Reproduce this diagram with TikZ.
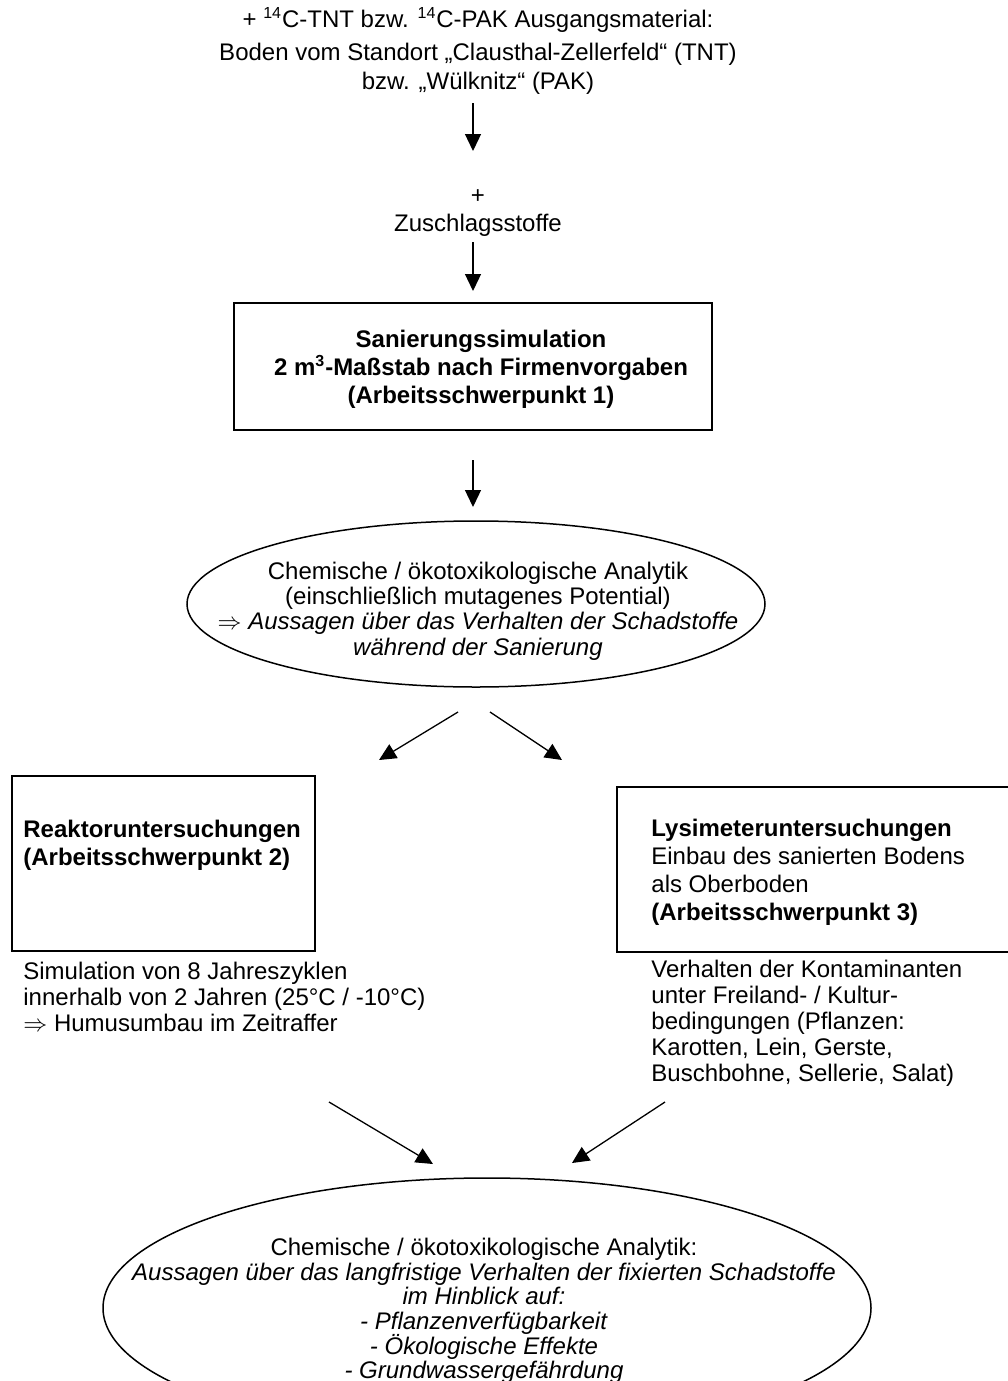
\documentclass[tikz,border=0pt]{standalone}
\usepackage{fontspec}
\setmainfont{Liberation Sans}
\usetikzlibrary{arrows.meta,shapes.geometric}

% feste Zeilenabstaende, auch bei engem Durchschuss
\newcommand\engzeilen{\lineskiplimit=-6pt\relax}

\tikzset{
  pfeil/.style={-{Triangle[length=8.5pt,width=8pt]}, line width=0.65pt},
  kasten/.style={draw, line width=1pt, inner sep=0pt},
  oval/.style={draw, ellipse, line width=0.75pt, inner sep=0pt},
  txt/.style={inner sep=0pt, font=\fontsize{12}{14}\selectfont\engzeilen},
}

\begin{document}
\begin{tikzpicture}[x=0.5pt, y=-0.5pt]
    \useasboundingbox (0,0) rectangle (1007,1381);

    % Nodes
    \node[txt, align=center, font=\fontsize{12}{14.5}\selectfont] (src) at (478,51) {+ \textsuperscript{14}C-TNT bzw. \textsuperscript{14}C-PAK Ausgangsmaterial:\\[2pt]
        Boden vom Standort „Clausthal-Zellerfeld“ (TNT)\\ bzw. „Wülknitz“ (PAK)};
    \node[txt, align=center] (zus) at (478,213) {+\\ Zuschlagsstoffe};

    \node[kasten, minimum width=239pt, minimum height=63.5pt] (san) at (473,366) {};
    \node[txt, align=center, font=\fontsize{12}{14}\selectfont\bfseries] (santxt) at (481,369)
        {Sanierungssimulation\\ 2 m\textsuperscript{3}-Maßstab nach Firmenvorgaben\\ (Arbeitsschwerpunkt 1)};

    \node[oval, minimum width=289pt, minimum height=83pt] (ana1) at (476,604) {};
    \node[txt, align=center, font=\fontsize{12}{12.6}\selectfont\engzeilen] (ana1txt) at (478,611) {Chemische / ökotoxikologische Analytik\\
        (einschließlich mutagenes Potential)\\
        $\Rightarrow$ \textit{Aussagen über das Verhalten der Schadstoffe}\\
        \textit{während der Sanierung}};

    \node[kasten, minimum width=151.5pt, minimum height=87.5pt] (reak) at (163.5,863.5) {};
    \node[txt, align=left, anchor=west, font=\fontsize{12}{14}\selectfont\bfseries] (reaktxt) at (23,845)
        {Reaktoruntersuchungen\\ (Arbeitsschwerpunkt 2)};
    \node[txt, align=left, anchor=west, font=\fontsize{12}{13}\selectfont\engzeilen] (reakinfo) at (23,997) {Simulation von 8 Jahreszyklen\\
        innerhalb von 2 Jahren (25°C / -10°C)\\ $\Rightarrow$ Humusumbau im Zeitraffer};

    \node[kasten, minimum width=199pt, minimum height=82.5pt] (lys) at (816,869.5) {};
    \node[txt, align=left, anchor=west] (lystxt) at (651,872) {\textbf{Lysimeteruntersuchungen}\\
        Einbau des sanierten Bodens\\ als Oberboden\\ \textbf{(Arbeitsschwerpunkt 3)}};
    \node[txt, align=left, anchor=west, font=\fontsize{12}{13}\selectfont\engzeilen] (lysinfo) at (651,1023) {Verhalten der Kontaminanten\\
        unter Freiland- / Kultur-\\ bedingungen (Pflanzen:\\ Karotten, Lein, Gerste,\\
        Buschbohne, Sellerie, Salat)};

    \node[oval, minimum width=384pt, minimum height=130pt] (ana2) at (487,1308) {};
    \node[txt, align=center, font=\fontsize{12}{12.3}\selectfont\engzeilen] (ana2txt) at (484,1311) {Chemische / ökotoxikologische Analytik:\\
        \textit{Aussagen über das langfristige Verhalten der fixierten Schadstoffe}\\
        \textit{im Hinblick auf:}\\ \textit{- Pflanzenverfügbarkeit}\\
        \textit{- Ökologische Effekte}\\ \textit{- Grundwassergefährdung}};

    % Arrow ends
    \coordinate (p1) at (473,103);  \coordinate (q1) at (473,151);
    \coordinate (p2) at (473,242);  \coordinate (q2) at (473,291);
    \coordinate (p3) at (473,460);  \coordinate (q3) at (473,507);
    \coordinate (p4) at (458,712);  \coordinate (q4) at (379,760);
    \coordinate (p5) at (490,712);  \coordinate (q5) at (562,760);
    \coordinate (p6) at (329,1102); \coordinate (q6) at (433,1164);
    \coordinate (p7) at (665,1102); \coordinate (q7) at (572,1163);

    % Arrows
    \draw[pfeil] (p1) -- (q1);
    \draw[pfeil] (p2) -- (q2);
    \draw[pfeil] (p3) -- (q3);
    \draw[pfeil] (p4) -- (q4);
    \draw[pfeil] (p5) -- (q5);
    \draw[pfeil] (p6) -- (q6);
    \draw[pfeil] (p7) -- (q7);

\end{tikzpicture}
\end{document}
